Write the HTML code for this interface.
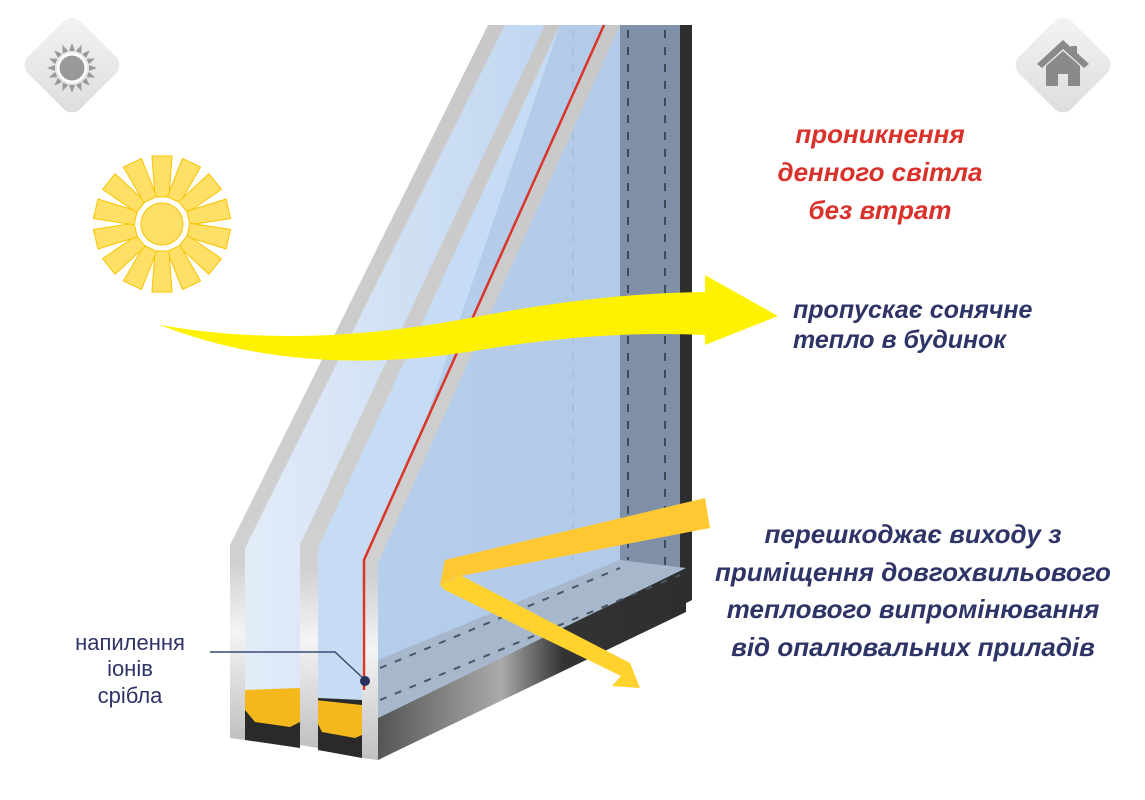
<!DOCTYPE html>
<html><head><meta charset="utf-8"><style>
html,body{margin:0;padding:0;background:#fff;}
svg{display:block}
text{font-family:"Liberation Sans",sans-serif;}
</style></head><body>
<svg width="1145" height="800" viewBox="0 0 1145 800" xmlns="http://www.w3.org/2000/svg">
<defs>
<linearGradient id="gl" x1="0" y1="0" x2="1" y2="0"><stop offset="0" stop-color="#dfeaf8"/><stop offset="1" stop-color="#b7d0ee"/></linearGradient>
<linearGradient id="fr" x1="0" y1="0" x2="1" y2="0"><stop offset="0" stop-color="#8ea6c4"/><stop offset="1" stop-color="#7a8ca6"/></linearGradient>
<linearGradient id="dk" x1="0" y1="0" x2="1" y2="0"><stop offset="0" stop-color="#555"/><stop offset=".4" stop-color="#aaa"/><stop offset=".6" stop-color="#333"/><stop offset="1" stop-color="#2e2e2e"/></linearGradient>
<linearGradient id="pn" x1="0" y1="0" x2="0" y2="1"><stop offset="0" stop-color="#c8c8c8"/><stop offset=".75" stop-color="#d0d0d0"/><stop offset=".85" stop-color="#f4f4f4"/><stop offset="1" stop-color="#c0c0c0"/></linearGradient>
<linearGradient id="ic" x1="0" y1="0" x2="1" y2="1"><stop offset="0" stop-color="#f4f4f4"/><stop offset="1" stop-color="#dcdcdc"/></linearGradient>
</defs>

<rect x="35" y="28" width="74" height="74" rx="12" fill="url(#ic)" transform="rotate(45 72 65)"/>
<g transform="translate(72 68)" fill="#999">
<g id="gr"><polygon points="-3,-17 3,-17 0,-25"/></g>
<use href="#gr" transform="rotate(22.5)"/><use href="#gr" transform="rotate(45)"/><use href="#gr" transform="rotate(67.5)"/><use href="#gr" transform="rotate(90)"/><use href="#gr" transform="rotate(112.5)"/><use href="#gr" transform="rotate(135)"/><use href="#gr" transform="rotate(157.5)"/><use href="#gr" transform="rotate(180)"/><use href="#gr" transform="rotate(202.5)"/><use href="#gr" transform="rotate(225)"/><use href="#gr" transform="rotate(247.5)"/><use href="#gr" transform="rotate(270)"/><use href="#gr" transform="rotate(292.5)"/><use href="#gr" transform="rotate(315)"/><use href="#gr" transform="rotate(337.5)"/>
<circle r="15" fill="#fff"/><circle r="12.5"/>
</g>
<rect x="1026" y="28" width="74" height="74" rx="12" fill="url(#ic)" transform="rotate(45 1063 65)"/>
<g fill="#8a8a8a"><polygon points="1071,46 1077,46 1077,58 1071,53"/><polygon points="1063,40 1089,64 1084,68 1063,49 1042,68 1037,64"/><polygon points="1046,66 1063,51 1080,66 1080,86 1068,86 1068,74 1058,74 1058,86 1046,86"/></g>

<g transform="translate(162 224)" fill="#ffe066" stroke="#f5c400" stroke-width="1">
<g id="ry"><polygon points="-7,-27 7,-27 10,-68 -10,-68"/></g>
<use href="#ry" transform="rotate(25.7)"/><use href="#ry" transform="rotate(51.4)"/><use href="#ry" transform="rotate(77.1)"/><use href="#ry" transform="rotate(102.9)"/><use href="#ry" transform="rotate(128.6)"/><use href="#ry" transform="rotate(154.3)"/><use href="#ry" transform="rotate(180)"/><use href="#ry" transform="rotate(205.7)"/><use href="#ry" transform="rotate(231.4)"/><use href="#ry" transform="rotate(257.1)"/><use href="#ry" transform="rotate(282.9)"/><use href="#ry" transform="rotate(308.6)"/><use href="#ry" transform="rotate(334.3)"/>
<circle r="21"/>
</g>

<polygon points="560,25 692,25 692,600 378,760 378,560" fill="url(#fr)"/>
<polygon points="680,25 692,25 692,600 680,606" fill="#2d2d2d"/>
<polygon points="620,25 680,25 680,575 620,575" fill="#7f90a8"/>
<line x1="628" y1="30" x2="628" y2="560" stroke="#3c4a5c" stroke-width="2" stroke-dasharray="8 9"/>
<line x1="665" y1="30" x2="665" y2="580" stroke="#3c4a5c" stroke-width="2" stroke-dasharray="8 9"/>
<line x1="573" y1="30" x2="573" y2="560" stroke="#3c4a5c" stroke-width="2" stroke-dasharray="8 9"/>
<polygon points="378,718 686,568 686,612 378,760" fill="url(#dk)"/>
<polygon points="378,660 620,560 686,568 378,718" fill="#a8b8cc"/>
<line x1="380" y1="700" x2="680" y2="575" stroke="#4a5566" stroke-width="2" stroke-dasharray="7 9"/>
<line x1="380" y1="668" x2="620" y2="568" stroke="#4a5566" stroke-width="2" stroke-dasharray="7 9"/>

<polygon points="245,545 505,25 560,25 318,545 318,700 245,700" fill="url(#gl)" opacity=".9"/>
<polygon points="318,545 560,25 620,25 620,560 378,660 378,715 318,700" fill="#bcd5f2" opacity=".85"/>

<polygon points="245,690 300,690 300,748 245,740" fill="#2a2a2a"/>
<polygon points="318,698 362,700 362,758 318,750" fill="#2a2a2a"/>
<polygon points="245,690 300,688 300,722 290,727 255,722 245,710" fill="#f5b81c"/>
<polygon points="315,700 362,705 362,735 355,738 322,732 315,718" fill="#f5b81c"/>

<polygon points="230,545 488,25 505,25 245,548 245,740 230,738" fill="url(#pn)"/>
<polygon points="300,545 545,25 560,25 318,548 318,748 300,745" fill="url(#pn)"/>
<polygon points="362,560 604,25 620,25 378,563 378,760 362,758" fill="url(#pn)"/>
<polyline points="604,25 364,560 364,690" fill="none" stroke="#d8362a" stroke-width="2.5"/>

<path d="M160,325 Q300,350 470,318 Q600,293 705,292 L705,275 L778,316 L705,345 L705,335 Q600,330 480,350 Q300,380 160,325 Z" fill="#fff200"/>

<polygon points="705,498 710,528 455,577 440,585 445,560" fill="#ffc832"/>
<polygon points="440,585 460,575 630,663 640,688 612,686 621,676 445,590" fill="#ffd22e"/>

<polyline points="210,652 335,652 365,680" fill="none" stroke="#3a4a74" stroke-width="1.5"/>
<circle cx="365" cy="681" r="5" fill="#26305e"/>

<g font-style="italic" font-weight="bold" font-size="26" text-anchor="middle" fill="#d9322b">
<text x="880" y="143">проникнення</text>
<text x="880" y="181">денного світла</text>
<text x="880" y="219">без втрат</text>
</g>
<g font-style="italic" font-weight="bold" font-size="25" fill="#2e3466">
<text x="793" y="318">пропускає сонячне</text>
<text x="793" y="348">тепло в будинок</text>
</g>
<g font-style="italic" font-weight="bold" font-size="26" text-anchor="middle" fill="#2e3466">
<text x="913" y="543">перешкоджає виходу з</text>
<text x="913" y="581">приміщення довгохвильового</text>
<text x="913" y="618">теплового випромінювання</text>
<text x="913" y="656">від опалювальних приладів</text>
</g>
<g font-size="22" text-anchor="middle" fill="#2e3466">
<text x="130" y="650">напилення</text>
<text x="130" y="676">іонів</text>
<text x="130" y="703">срібла</text>
</g>
</svg>
</body></html>
